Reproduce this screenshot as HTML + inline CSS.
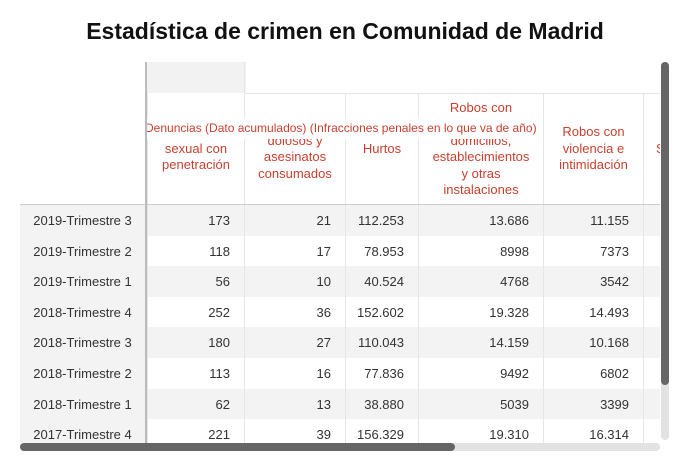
<!DOCTYPE html>
<html><head><meta charset="utf-8"><style>
body{margin:0;width:690px;height:465px;background:#fff;font-family:"Liberation Sans",sans-serif;overflow:hidden;position:relative}
.t{position:absolute;top:18px;left:0;width:690px;text-align:center;font-weight:bold;font-size:23px;color:#111}
.wrap{position:absolute;left:20px;top:62px;width:640px;height:381px;overflow:hidden}
.hc{position:absolute;display:flex;align-items:center;justify-content:center;text-align:center;color:#c8402f;font-size:13px;line-height:16.5px;border-left:1px solid #e6e6e6;box-sizing:border-box}
.row{position:absolute;left:0;width:640px;height:31px;font-size:13px;color:#333}
.row div{position:absolute;top:0;height:31px;line-height:31px;box-sizing:border-box;border-left:1px solid #e6e6e6}
.num{text-align:right;padding-right:14px}
.lab{text-align:center;border-left:none!important}
</style></head><body>
<div class="t">Estadística de crimen en Comunidad de Madrid</div>
<div class="wrap">
<div style="position:absolute;left:125px;top:0;width:99px;height:31px;background:#f2f2f2;border-left:2px solid #bbb"></div>
<div style="position:absolute;left:224px;top:0;width:416px;height:31px;border-left:1px solid #e6e6e6;border-bottom:1px solid #e6e6e6"></div>
<div class="hc" style="left:127px;top:31px;width:97px;height:112px">Agresión<br>sexual con<br>penetración</div>
<div class="hc" style="left:224px;top:31px;width:101px;height:112px">Homicidios<br>dolosos y<br>asesinatos<br>consumados</div>
<div class="hc" style="left:325px;top:31px;width:73px;height:112px">Hurtos</div>
<div class="hc" style="left:398px;top:31px;width:125px;height:112px">Robos con<br>fuerza en<br>domicilios,<br>establecimientos<br>y otras<br>instalaciones</div>
<div class="hc" style="left:523px;top:31px;width:100px;height:112px">Robos con<br>violencia e<br>intimidación</div>
<div class="hc" style="left:623px;top:31px;width:100px;height:112px;justify-content:flex-start;padding-left:12px">Sustracción</div>
<div style="position:absolute;left:0;top:142px;width:640px;height:1px;background:#ccc"></div>
<div style="position:absolute;left:125px;top:56px;height:21px;background:#fff;color:#c8402f;font-size:12px;line-height:21px;white-space:nowrap;padding-right:4px">Denuncias (Dato acumulados) (Infracciones penales en lo que va de año)</div>
<div id="rows"></div>
<div style="position:absolute;left:125px;top:31px;width:2px;height:350px;background:#bbb;z-index:5"></div>
</div>
<div style="position:absolute;left:661px;top:62px;width:8px;height:378px;background:#e2e2e2;border-radius:4px"></div>
<div style="position:absolute;left:661px;top:62px;width:8px;height:323px;background:#666;border-radius:4px"></div>
<div style="position:absolute;left:20px;top:443px;width:640px;height:8px;background:#e2e2e2;border-radius:4px"></div>
<div style="position:absolute;left:20px;top:443px;width:435px;height:8px;background:#666;border-radius:4px"></div>
<script>
const labels=["2019-Trimestre 3","2019-Trimestre 2","2019-Trimestre 1","2018-Trimestre 4","2018-Trimestre 3","2018-Trimestre 2","2018-Trimestre 1","2017-Trimestre 4"];
const agresion=["173","118","56","252","180","113","62","221"];
const homicidios=["21","17","10","36","27","16","13","39"];
const hurtos=["112.253","78.953","40.524","152.602","110.043","77.836","38.880","156.329"];
const robosFuerza=["13.686","8998","4768","19.328","14.159","9492","5039","19.310"];
const robosViolencia=["11.155","7373","3542","14.493","10.168","6802","3399","16.314"];
const cols=[[127,97,agresion],[224,101,homicidios],[325,73,hurtos],[398,125,robosFuerza],[523,100,robosViolencia],[623,100,null]];
const c=document.getElementById('rows');
labels.forEach((l,i)=>{
 const r=document.createElement('div');r.className='row';
 
 
 r.style.top=(143+i*30.6)+'px';
 r.style.background=i%2===0?'#f3f3f3':'#fff';
 let h='<div class="lab" style="left:0;width:125px;background:#f3f3f3">'+l+'</div>';
 cols.forEach(([x,w,a])=>{h+='<div class="num" style="left:'+x+'px;width:'+w+'px">'+(a?a[i]:'')+'</div>';});
 r.innerHTML=h;c.appendChild(r);
});
</script>
</body></html>
